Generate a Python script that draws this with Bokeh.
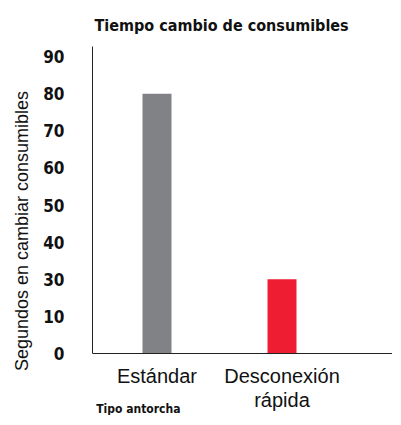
from bokeh.plotting import figure
from bokeh.models import Range1d, FixedTicker, Label
from bokeh.embed import file_html
from bokeh.resources import INLINE

categories = ["Estándar", "Desconexión\nrápida"]
values = [80, 30]
bar_colors = ["#818286", "#EE1D32"]
y_tick_labels = ["0", "10", "30", "40", "50", "60", "70", "80", "90"]

x_pos = [i + 1 for i in range(len(categories))]
y_idx = [y_tick_labels.index(str(v)) for v in values]

COND = "DejaVu Sans Condensed"
Y_TOP = 8.27
Y_BOTTOM = -1.67
X_START, X_END = 0.484, 2.884

p = figure(width=392, height=415, output_backend="svg", toolbar_location=None,
           x_range=Range1d(X_START, X_END), y_range=Range1d(Y_BOTTOM, Y_TOP),
           min_border_left=92, min_border_right=0, min_border_top=46, min_border_bottom=0)

p.vbar(x=x_pos, top=y_idx, bottom=0, width=0.232, color=bar_colors, line_color=None)

p.title.text = "Tiempo cambio de consumibles"
p.title.align = "left"
p.title.offset = 2
p.title.text_font = COND
p.title.text_font_style = "bold"
p.title.text_font_size = "16px"
p.title.text_color = "#111111"
p.title.standoff = 23

p.xgrid.grid_line_color = None
p.ygrid.grid_line_color = None
p.outline_line_color = None

p.yaxis.bounds = (0, Y_TOP)
p.yaxis.ticker = FixedTicker(ticks=list(range(len(y_tick_labels))))
p.yaxis.major_label_overrides = {i: t for i, t in enumerate(y_tick_labels)}
p.yaxis.major_tick_line_color = None
p.yaxis.minor_tick_line_color = None
p.yaxis.major_label_standoff = 22
p.yaxis.major_label_text_font = COND
p.yaxis.major_label_text_font_style = "bold"
p.yaxis.major_label_text_font_size = "17px"
p.yaxis.major_label_text_color = "#111111"
p.yaxis.axis_label = "Segundos en cambiar consumibles"
p.yaxis.axis_label_text_font = "Liberation Sans"
p.yaxis.axis_label_text_font_style = "normal"
p.yaxis.axis_label_text_font_size = "18px"
p.yaxis.axis_label_text_color = "#111111"
p.yaxis.axis_label_standoff = 8
p.yaxis.axis_line_color = "#222222"

p.xaxis.fixed_location = 0
p.xaxis.ticker = FixedTicker(ticks=x_pos)
p.xaxis.major_label_overrides = {x: c for x, c in zip(x_pos, categories)}
p.xaxis.major_tick_line_color = None
p.xaxis.minor_tick_line_color = None
p.xaxis.major_label_standoff = 5
p.xaxis.major_label_text_font = "Liberation Sans"
p.xaxis.major_label_text_font_size = "20px"
p.xaxis.major_label_text_line_height = 1.1
p.xaxis.major_label_text_color = "#111111"
p.xaxis.axis_line_color = "#222222"

xtitle = Label(x=X_START + 0.03, y=Y_BOTTOM, text="Tipo antorcha",
               text_font=COND, text_font_style="bold", text_font_size="12px",
               text_color="#111111", text_baseline="bottom", text_align="left")
p.add_layout(xtitle)

open("out.html", "w").write(file_html(p, INLINE))
